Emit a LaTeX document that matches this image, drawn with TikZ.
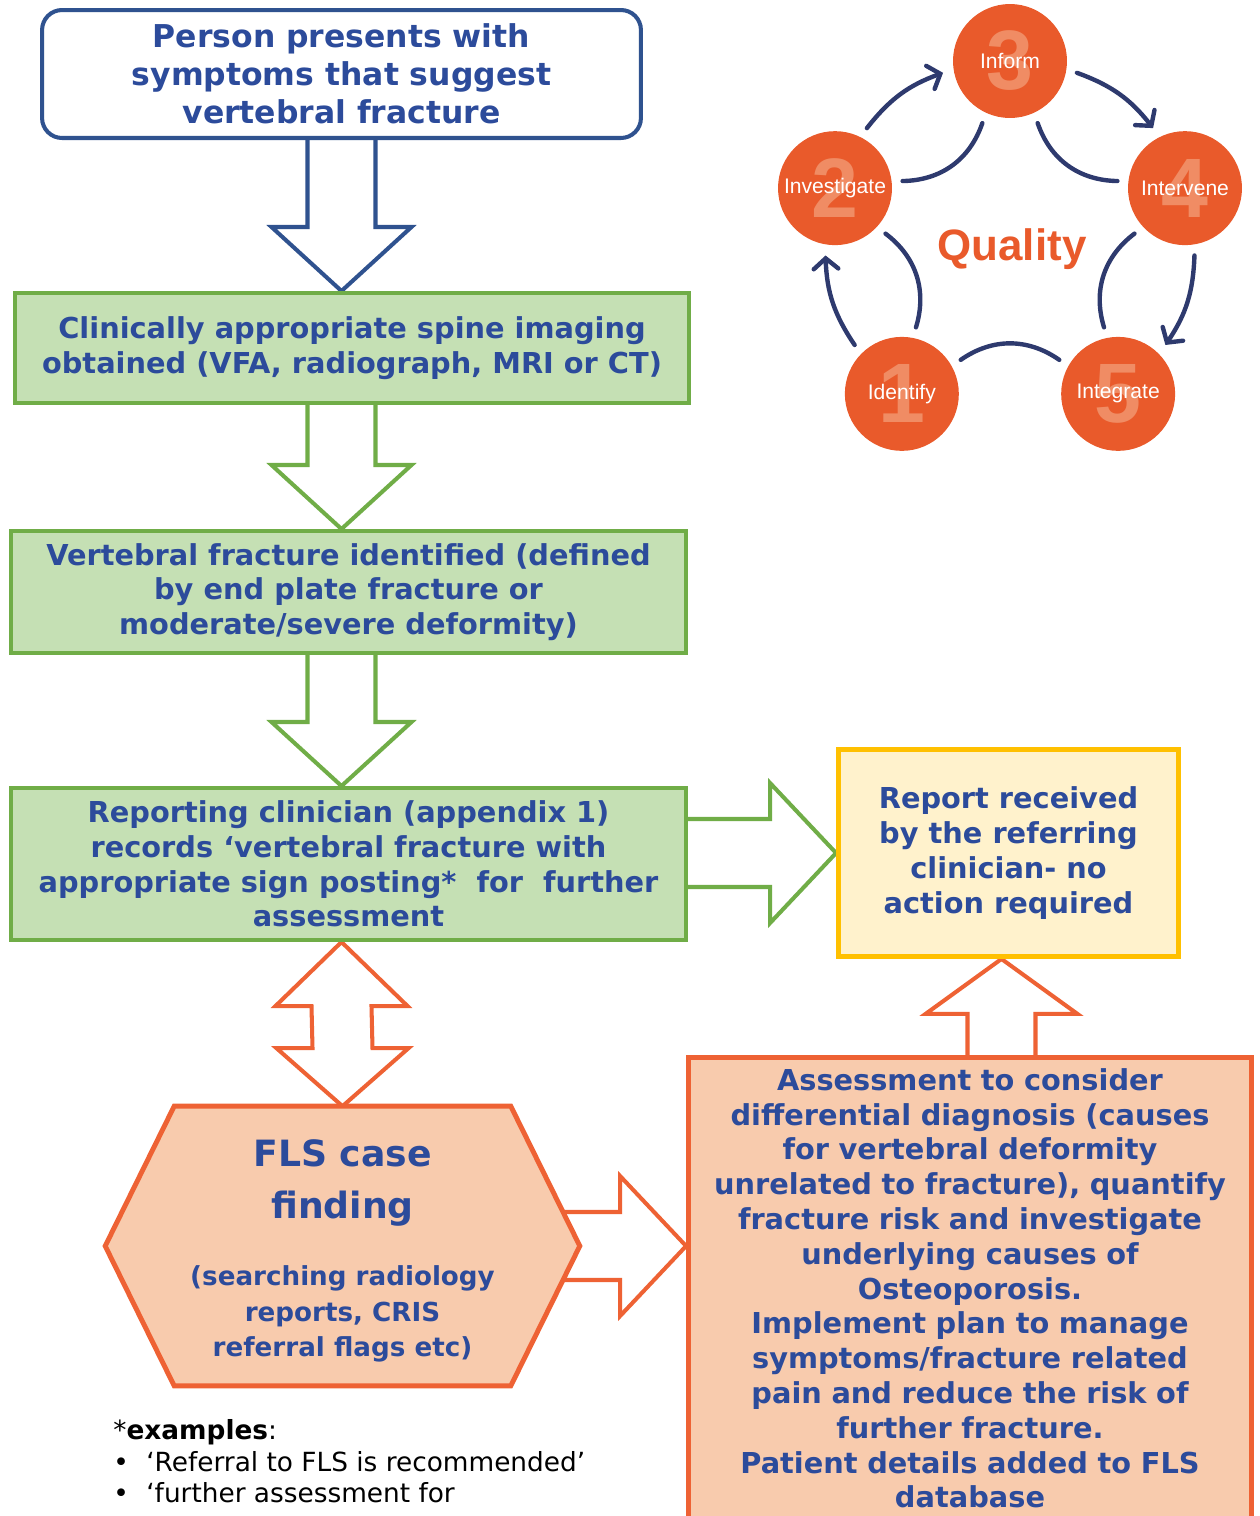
\documentclass[tikz,border=0pt]{standalone}
\usepackage{fontspec}
\setmainfont{DejaVu Sans}
\newfontfamily\cyclefont{Liberation Sans}
\usetikzlibrary{arrows.meta, positioning, calc, backgrounds}
\definecolor{navytext}{RGB}{44,75,155}
\definecolor{blueline}{RGB}{47,82,143}
\definecolor{greenline}{RGB}{112,173,71}
\definecolor{greenfill}{RGB}{197,224,180}
\definecolor{yellowline}{RGB}{255,192,0}
\definecolor{yellowfill}{RGB}{255,242,204}
\definecolor{orangeline}{RGB}{238,98,52}
\definecolor{orangefill}{RGB}{248,203,173}
\definecolor{cycleorange}{RGB}{233,90,43}
\definecolor{cyclenum}{RGB}{240,140,100}
\definecolor{cyclenavy}{RGB}{46,58,110}
\tikzset{
    box_round_blue/.style={
        rectangle, rounded corners=0.4cm, draw=blueline, line width=2.3pt, fill=white,
        minimum width=11.98cm, minimum height=2.56cm, inner sep=0pt,
        align=center, text=navytext, font=\bfseries\fontsize{17.9}{21.5}\selectfont
    },
    box_green/.style={
        rectangle, draw=greenline, fill=greenfill, line width=2.3pt,
        minimum width=13.5cm, inner sep=0pt,
        align=center, text=navytext, font=\bfseries\fontsize{16.4}{19.8}\selectfont
    },
    box_yellow/.style={
        rectangle, draw=yellowline, fill=yellowfill, line width=2.8pt,
        minimum width=6.8cm, minimum height=4.14cm, inner sep=0pt,
        align=center, text=navytext, font=\bfseries\fontsize{16.4}{19.8}\selectfont
    },
    box_orange/.style={
        rectangle, draw=orangeline, fill=orangefill, line width=2.8pt,
        text width=10.9cm, inner xsep=0.18cm, inner ysep=0.22cm,
        align=center, text=navytext, font=\bfseries\fontsize{16.4}{19.8}\selectfont
    },
    hex_shape/.style={
        rectangle, minimum width=9.48cm, minimum height=5.58cm, inner sep=0pt
    },
    hex_line/.style={
        draw=orangeline, fill=orangefill, line width=2.8pt, line join=miter
    },
    hex_title/.style={
        align=center, text=navytext, inner sep=0pt,
        font=\bfseries\fontsize{20.6}{29.5}\selectfont
    },
    hex_sub/.style={
        align=center, text=navytext, inner sep=0pt,
        font=\bfseries\fontsize{14.9}{20.4}\selectfont
    },
    note_txt/.style={
        anchor=north west, align=left, inner sep=0pt,
        font=\fontsize{15}{18.1}\selectfont
    },
    block_down/.style={
        draw=#1, fill=white, line width=2.3pt,
        to path={($(\tikztostart)+(-34,0)$) -- ($(\tikztotarget)+(-34,-64)$) -- ($(\tikztotarget)+(-70,-64)$)
            -- (\tikztotarget) -- ($(\tikztotarget)+(70,-64)$) -- ($(\tikztotarget)+(34,-64)$)
            -- ($(\tikztostart)+(34,0)$) -- cycle}
    },
    block_up/.style={
        draw=#1, fill=white, line width=2.3pt,
        to path={($(\tikztostart)+(-34,0)$) -- ($(\tikztotarget)+(-34,55)$) -- ($(\tikztotarget)+(-76,55)$)
            -- (\tikztotarget) -- ($(\tikztotarget)+(76,55)$) -- ($(\tikztotarget)+(34,55)$)
            -- ($(\tikztostart)+(34,0)$) -- cycle}
    },
    block_right/.style={
        draw=#1, fill=white, line width=2.3pt,
        to path={($(\tikztostart)+(0,-34)$) -- ($(\tikztotarget)+(-66,-34)$) -- ($(\tikztotarget)+(-66,-70)$)
            -- (\tikztotarget) -- ($(\tikztotarget)+(-66,70)$) -- ($(\tikztotarget)+(-66,34)$)
            -- ($(\tikztostart)+(0,34)$) -- cycle}
    },
    block_double/.style={
        draw=#1, fill=white, line width=2.3pt,
        to path={(\tikztostart) -- ($(\tikztostart)+(66,64)$) -- ($(\tikztostart)+(30,64)$)
            -- ($(\tikztotarget)+(30,-58)$) -- ($(\tikztotarget)+(66,-58)$) -- (\tikztotarget)
            -- ($(\tikztotarget)+(-66,-58)$) -- ($(\tikztotarget)+(-30,-58)$)
            -- ($(\tikztostart)+(-30,64)$) -- ($(\tikztostart)+(-66,64)$) -- cycle}
    },
    step_circle/.style={
        circle, fill=cycleorange, minimum size=2.28cm, inner sep=0pt, outer sep=0.22cm
    },
    step_num/.style={
        text=cyclenum, inner sep=0pt, font=\cyclefont\bfseries\fontsize{48}{48}\selectfont
    },
    step_lbl/.style={
        text=white, inner sep=0pt, font=\cyclefont\fontsize{12}{14}\selectfont
    },
    cycle_arrow/.style={
        draw=cyclenavy, line width=2.5pt, line cap=round,
        -{Straight Barb[length=6pt, width=14pt, line cap=round]}
    },
    cycle_line/.style={
        draw=cyclenavy, line width=2.5pt, line cap=round
    }
}

\begin{document}
\begin{tikzpicture}[x=0.02cm, y=-0.02cm]

    \useasboundingbox (0,0) rectangle (1259,1516);
    \clip (0,0) rectangle (1259,1516);

    \node[box_round_blue] (pres) at (341.5,74) {Person presents with\\symptoms that suggest\\vertebral fracture};
    \node[box_green, minimum width=13.48cm, minimum height=2.2cm] (imaging) at (352,348) {Clinically appropriate spine imaging\\obtained (VFA, radiograph, MRI or CT)};
    \node[box_green, minimum height=2.44cm] (identified) at (348.5,592) {Vertebral fracture identified (defined\\by end plate fracture or\\moderate/severe deformity)};
    \node[box_green, minimum height=3.04cm] (report) at (348.5,864) {Reporting clinician (appendix 1)\\records ‘vertebral fracture with\\appropriate sign posting*\ \ for\ \ further\\assessment};
    \node[box_yellow] (referring) at (1008.5,853) {Report received\\by the referring\\clinician- no\\action required};

    \node[hex_shape] (fls) at (342.5,1246) {};
    \node[hex_title] (flstitle) at (342.5,1183) {FLS case\\finding};
    \node[hex_sub] (flssub) at (342.5,1314) {(searching radiology\\reports, CRIS\\referral flags etc)};

    \node[box_orange, anchor=north] (assess) at (970,1055) {Assessment to consider\\differential diagnosis (causes\\for vertebral deformity\\unrelated to fracture), quantify\\fracture risk and investigate\\underlying causes of\\Osteoporosis.\\Implement plan to manage\\symptoms/fracture related\\pain and reduce the risk of\\further fracture.\\Patient details added to FLS\\database};

    \node[note_txt] (examples) at (113,1419) {*\textbf{examples}:\\\makebox[0.66cm][l]{•}‘Referral to FLS is recommended’\\\makebox[0.66cm][l]{•}‘further assessment for};

    % quality cycle
    \foreach \n/\lab/\ang in {1/Identify/234, 2/Investigate/162, 3/Inform/90, 4/Intervene/18, 5/Integrate/-54} {
        \node[step_circle] (c\n) at ({1010+184*cos(\ang)},{245-184*sin(\ang)}) {};
        \node[step_num] (n\n) at (c\n) {\n};
        \node[step_lbl] (l\n) at (c\n) {\lab};
    }
    \node[text=cycleorange, inner sep=0pt, font=\cyclefont\bfseries\fontsize{25}{30}\selectfont] (quality) at (1012,249) {Quality};

    \foreach \a/\b/\sa/\ea in {1/2/134/262, 2/3/62/190, 3/4/-10/118, 4/5/-82/46}
        \draw[cycle_arrow] (c\a.\sa) to[bend left=16] (c\b.\ea);
    \foreach \a/\b/\sa/\ea in {1/2/78/318, 2/3/6/246, 3/4/-66/174, 4/5/-138/102, 5/1/150/30}
        \draw[cycle_line] (c\a.\sa) to[bend right=35] (c\b.\ea);

    \coordinate (uptip) at ($(referring.south)+(-7,0)$);

    \begin{scope}[on background layer]
        \draw[block_down=blueline] (pres.center) to (pres.south |- imaging.north);
        \draw[block_down=greenline] (pres.south |- imaging.center) to (pres.south |- identified.north);
        \draw[block_down=greenline] (pres.south |- identified.center) to (pres.south |- report.north);
        \draw[block_right=greenline] (report.center |- referring.west) to (referring.west);
        \draw[block_double=orangeline] (pres.south |- report.south) to (fls.north);
        \draw[block_right=orangeline] (fls.center) to (fls.center -| assess.west);
        \draw[block_up=orangeline] (uptip |- assess.center) to (uptip);
        \draw[hex_line] (fls.west) -- ($(fls.north west)+(69,0)$) -- ($(fls.north east)+(-69,0)$) -- (fls.east)
            -- ($(fls.south east)+(-69,0)$) -- ($(fls.south west)+(69,0)$) -- cycle;
    \end{scope}

\end{tikzpicture}
\end{document}
